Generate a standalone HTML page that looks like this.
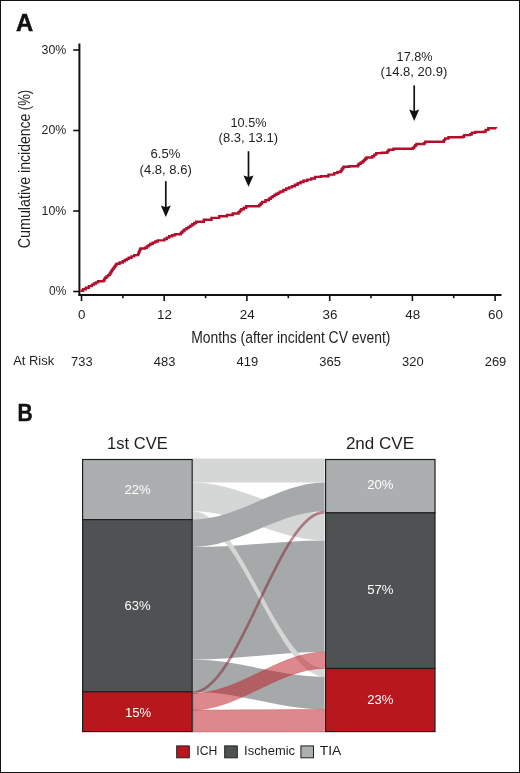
<!DOCTYPE html><html><head><meta charset="utf-8"><style>html,body{margin:0;padding:0;background:#fff;}svg{display:block;will-change:transform;}text{font-family:"Liberation Sans", sans-serif;}</style></head><body>
<svg width="520" height="773" viewBox="0 0 520 773">
<rect x="0" y="0" width="520" height="773" fill="#fff"/>
<rect x="0.5" y="0.5" width="519" height="772" fill="none" stroke="#111" stroke-width="1"/>
<text x="16.1" y="30.7" font-size="23.6" text-anchor="start" fill="#111" font-weight="bold" textLength="17.2" lengthAdjust="spacingAndGlyphs" stroke="#111" stroke-width="0.5">A</text>
<line x1="79.4" y1="43.5" x2="79.4" y2="295.5" stroke="#111" stroke-width="2"/>
<line x1="78.4" y1="294.9" x2="501.5" y2="294.9" stroke="#111" stroke-width="2"/>
<line x1="73.2" y1="291.5" x2="79.4" y2="291.5" stroke="#111" stroke-width="1.6"/>
<text x="66.3" y="295.4" font-size="13.4" text-anchor="end" fill="#1e1e1e" font-weight="normal" textLength="17.3" lengthAdjust="spacingAndGlyphs">0%</text>
<line x1="73.2" y1="211.0" x2="79.4" y2="211.0" stroke="#111" stroke-width="1.6"/>
<text x="66.3" y="214.9" font-size="13.4" text-anchor="end" fill="#1e1e1e" font-weight="normal" textLength="24.8" lengthAdjust="spacingAndGlyphs">10%</text>
<line x1="73.2" y1="130.5" x2="79.4" y2="130.5" stroke="#111" stroke-width="1.6"/>
<text x="66.3" y="134.4" font-size="13.4" text-anchor="end" fill="#1e1e1e" font-weight="normal" textLength="24.8" lengthAdjust="spacingAndGlyphs">20%</text>
<line x1="73.2" y1="50.0" x2="79.4" y2="50.0" stroke="#111" stroke-width="1.6"/>
<text x="66.3" y="53.9" font-size="13.4" text-anchor="end" fill="#1e1e1e" font-weight="normal" textLength="24.8" lengthAdjust="spacingAndGlyphs">30%</text>
<line x1="81.5" y1="294" x2="81.5" y2="301" stroke="#111" stroke-width="1.6"/>
<text x="81.8" y="318.6" font-size="13.4" text-anchor="middle" fill="#1e1e1e" font-weight="normal">0</text>
<line x1="122.9" y1="294" x2="122.9" y2="298.2" stroke="#111" stroke-width="1.6"/>
<line x1="164.2" y1="294" x2="164.2" y2="301" stroke="#111" stroke-width="1.6"/>
<text x="164.5" y="318.6" font-size="13.4" text-anchor="middle" fill="#1e1e1e" font-weight="normal">12</text>
<line x1="205.6" y1="294" x2="205.6" y2="298.2" stroke="#111" stroke-width="1.6"/>
<line x1="246.9" y1="294" x2="246.9" y2="301" stroke="#111" stroke-width="1.6"/>
<text x="247.2" y="318.6" font-size="13.4" text-anchor="middle" fill="#1e1e1e" font-weight="normal">24</text>
<line x1="288.3" y1="294" x2="288.3" y2="298.2" stroke="#111" stroke-width="1.6"/>
<line x1="329.7" y1="294" x2="329.7" y2="301" stroke="#111" stroke-width="1.6"/>
<text x="330.0" y="318.6" font-size="13.4" text-anchor="middle" fill="#1e1e1e" font-weight="normal">36</text>
<line x1="371.0" y1="294" x2="371.0" y2="298.2" stroke="#111" stroke-width="1.6"/>
<line x1="412.4" y1="294" x2="412.4" y2="301" stroke="#111" stroke-width="1.6"/>
<text x="412.7" y="318.6" font-size="13.4" text-anchor="middle" fill="#1e1e1e" font-weight="normal">48</text>
<line x1="453.7" y1="294" x2="453.7" y2="298.2" stroke="#111" stroke-width="1.6"/>
<line x1="495.1" y1="294" x2="495.1" y2="301" stroke="#111" stroke-width="1.6"/>
<text x="495.4" y="318.6" font-size="13.4" text-anchor="middle" fill="#1e1e1e" font-weight="normal">60</text>
<text x="191.2" y="343.1" font-size="16.8" text-anchor="start" fill="#1e1e1e" font-weight="normal" textLength="199.2" lengthAdjust="spacingAndGlyphs">Months (after incident CV event)</text>
<text transform="translate(30.0,248.2) rotate(-90)" x="0" y="0" font-size="17.4" fill="#1e1e1e" textLength="71.4" lengthAdjust="spacingAndGlyphs">Cumulative</text>
<text transform="translate(30.0,172.9) rotate(-90)" x="0" y="0" font-size="16.8" fill="#1e1e1e" textLength="59.3" lengthAdjust="spacingAndGlyphs">incidence</text>
<text transform="translate(30.0,110.19999999999999) rotate(-90)" x="0" y="0" font-size="16.8" fill="#1e1e1e" textLength="20.3" lengthAdjust="spacingAndGlyphs">(%)</text>
<text x="13.2" y="365.2" font-size="13" text-anchor="start" fill="#1e1e1e" font-weight="normal" textLength="41" lengthAdjust="spacingAndGlyphs">At Risk</text>
<text x="81.9" y="365.7" font-size="13" text-anchor="middle" fill="#1e1e1e" font-weight="normal" textLength="21.6" lengthAdjust="spacingAndGlyphs">733</text>
<text x="164.6" y="365.7" font-size="13" text-anchor="middle" fill="#1e1e1e" font-weight="normal" textLength="21.6" lengthAdjust="spacingAndGlyphs">483</text>
<text x="247.3" y="365.7" font-size="13" text-anchor="middle" fill="#1e1e1e" font-weight="normal" textLength="21.6" lengthAdjust="spacingAndGlyphs">419</text>
<text x="330.1" y="365.7" font-size="13" text-anchor="middle" fill="#1e1e1e" font-weight="normal" textLength="21.6" lengthAdjust="spacingAndGlyphs">365</text>
<text x="412.8" y="365.7" font-size="13" text-anchor="middle" fill="#1e1e1e" font-weight="normal" textLength="21.6" lengthAdjust="spacingAndGlyphs">320</text>
<text x="495.5" y="365.7" font-size="13" text-anchor="middle" fill="#1e1e1e" font-weight="normal" textLength="21.6" lengthAdjust="spacingAndGlyphs">269</text>
<path d="M80.4,290.8 L83.1,290.8 L83.1,289.25 L85.8,289.25 L85.8,287.7 L88.85,287.7 L88.85,286.15 L91.9,286.15 L91.9,284.6 L93.97,284.6 L93.97,283.47 L96.03,283.47 L96.03,282.33 L98.1,282.33 L98.1,281.2 L103.5,281.2 L103.5,280.8 L104.25,280.8 L104.25,279.25 L105.0,279.25 L105.0,277.7 L106.53,277.7 L106.53,276.4 L108.07,276.4 L108.07,275.1 L109.6,275.1 L109.6,273.8 L110.38,273.8 L110.38,272.57 L111.15,272.57 L111.15,271.35 L111.92,271.35 L111.92,270.12 L112.7,270.12 L112.7,268.9 L113.65,268.9 L113.65,267.62 L114.6,267.62 L114.6,266.35 L115.55,266.35 L115.55,265.07 L116.5,265.07 L116.5,263.8 L119.6,263.8 L119.6,262.5 L122.7,262.5 L122.7,261.2 L124.73,261.2 L124.73,260.03 L126.77,260.03 L126.77,258.87 L128.8,258.87 L128.8,257.7 L131.5,257.7 L131.5,256.4 L134.2,256.4 L134.2,255.1 L138.1,255.1 L138.1,253.8 L138.68,253.8 L138.68,252.48 L139.25,252.48 L139.25,251.15 L139.82,251.15 L139.82,249.82 L140.4,249.82 L140.4,248.5 L145.0,248.5 L145.0,247.7 L146.8,247.7 L146.8,246.4 L148.6,246.4 L148.6,245.1 L150.4,245.1 L150.4,243.8 L152.83,243.8 L152.83,242.67 L155.27,242.67 L155.27,241.53 L157.7,241.53 L157.7,240.4 L164.4,240.4 L164.4,239.0 L166.8,239.0 L166.8,237.6 L169.2,237.6 L169.2,236.2 L172.1,236.2 L172.1,235.2 L175.0,235.2 L175.0,234.2 L180.8,234.2 L180.8,232.7 L182.07,232.7 L182.07,231.6 L183.33,231.6 L183.33,230.5 L184.6,230.5 L184.6,229.4 L186.53,229.4 L186.53,228.13 L188.47,228.13 L188.47,226.87 L190.4,226.87 L190.4,225.6 L192.33,225.6 L192.33,224.3 L194.27,224.3 L194.27,223.0 L196.2,223.0 L196.2,221.7 L203.8,221.7 L203.8,219.8 L211.5,219.8 L211.5,217.9 L219.2,217.9 L219.2,216.3 L226.9,216.3 L226.9,215.0 L232.7,215.0 L232.7,213.5 L238.5,213.5 L238.5,212.1 L239.9,212.1 L239.9,210.65 L241.3,210.65 L241.3,209.2 L243.75,209.2 L243.75,207.75 L246.2,207.75 L246.2,206.3 L251.5,206.3 L251.5,206.3 L259.2,206.3 L259.2,205.0 L260.65,205.0 L260.65,203.45 L262.1,203.45 L262.1,201.9 L265.45,201.9 L265.45,200.3 L268.8,200.3 L268.8,198.7 L270.73,198.7 L270.73,197.4 L272.67,197.4 L272.67,196.1 L274.6,196.1 L274.6,194.8 L276.53,194.8 L276.53,193.7 L278.47,193.7 L278.47,192.6 L280.4,192.6 L280.4,191.5 L283.3,191.5 L283.3,190.0 L286.2,190.0 L286.2,188.5 L289.05,188.5 L289.05,187.35 L291.9,187.35 L291.9,186.2 L294.8,186.2 L294.8,184.75 L297.7,184.75 L297.7,183.3 L300.6,183.3 L300.6,182.05 L303.5,182.05 L303.5,180.8 L307.35,180.8 L307.35,179.65 L311.2,179.65 L311.2,178.5 L315.0,178.5 L315.0,176.9 L320.8,176.9 L320.8,176.2 L328.5,176.2 L328.5,174.6 L334.2,174.6 L334.2,173.1 L337.4,173.1 L337.4,172.05 L340.6,172.05 L340.6,171.0 L341.57,171.0 L341.57,169.57 L342.53,169.57 L342.53,168.13 L343.5,168.13 L343.5,166.7 L349.2,166.7 L349.2,166.2 L356.9,166.2 L356.9,166.2 L357.85,166.2 L357.85,165.0 L358.8,165.0 L358.8,163.8 L360.75,163.8 L360.75,162.55 L362.7,162.55 L362.7,161.3 L363.97,161.3 L363.97,160.03 L365.23,160.03 L365.23,158.77 L366.5,158.77 L366.5,157.5 L372.3,157.5 L372.3,156.2 L374.25,156.2 L374.25,154.65 L376.2,154.65 L376.2,153.1 L381.9,153.1 L381.9,152.7 L386.7,152.7 L386.7,152.3 L387.7,152.3 L387.7,151.05 L388.7,151.05 L388.7,149.8 L393.5,149.8 L393.5,148.8 L412.7,148.8 L412.7,147.9 L413.97,147.9 L413.97,146.6 L415.23,146.6 L415.23,145.3 L416.5,145.3 L416.5,144.0 L424.2,144.0 L424.2,143.1 L425.2,143.1 L425.2,141.7 L442.5,141.7 L442.5,141.7 L443.8,141.7 L443.8,140.1 L445.1,140.1 L445.1,138.5 L448.5,138.5 L448.5,137.3 L462.4,137.3 L462.4,136.8 L464.1,136.8 L464.1,135.1 L470.2,135.1 L470.2,134.2 L471.9,134.2 L471.9,132.8 L475.4,132.8 L475.4,132.0 L484.0,132.0 L484.0,131.6 L485.7,131.6 L485.7,129.9 L488.3,129.9 L488.3,128.2 L496.1,128.2 L496.1,128.5" fill="none" stroke="#b10f2c" stroke-width="2.4" stroke-linejoin="miter"/>
<text x="165.4" y="158.2" font-size="13" text-anchor="middle" fill="#1e1e1e" font-weight="normal" textLength="29.8" lengthAdjust="spacingAndGlyphs">6.5%</text>
<text x="165.7" y="173.7" font-size="13" text-anchor="middle" fill="#1e1e1e" font-weight="normal" textLength="52.2" lengthAdjust="spacingAndGlyphs">(4.8, 8.6)</text>
<line x1="165.8" y1="181.2" x2="165.8" y2="209" stroke="#111" stroke-width="1.7"/><path d="M165.8,217 L160.8,205.6 L165.8,207.3 L170.8,205.6 Z" fill="#111"/>
<text x="248.5" y="127" font-size="13" text-anchor="middle" fill="#1e1e1e" font-weight="normal" textLength="36" lengthAdjust="spacingAndGlyphs">10.5%</text>
<text x="248.3" y="142.4" font-size="13" text-anchor="middle" fill="#1e1e1e" font-weight="normal" textLength="59.4" lengthAdjust="spacingAndGlyphs">(8.3, 13.1)</text>
<line x1="248.5" y1="151.2" x2="248.5" y2="178.8" stroke="#111" stroke-width="1.7"/><path d="M248.5,186.8 L243.5,175.4 L248.5,177.10000000000002 L253.5,175.4 Z" fill="#111"/>
<text x="414.6" y="60.8" font-size="13" text-anchor="middle" fill="#1e1e1e" font-weight="normal" textLength="36" lengthAdjust="spacingAndGlyphs">17.8%</text>
<text x="413.9" y="76.1" font-size="13" text-anchor="middle" fill="#1e1e1e" font-weight="normal" textLength="66.7" lengthAdjust="spacingAndGlyphs">(14.8, 20.9)</text>
<line x1="414.2" y1="85.4" x2="414.2" y2="113" stroke="#111" stroke-width="1.7"/><path d="M414.2,121 L409.2,109.6 L414.2,111.3 L419.2,109.6 Z" fill="#111"/>
<text x="17.6" y="420.5" font-size="23.2" text-anchor="start" fill="#111" font-weight="bold" textLength="15.2" lengthAdjust="spacingAndGlyphs" stroke="#111" stroke-width="0.4">B</text>
<text x="137.4" y="448.8" font-size="17.4" text-anchor="middle" fill="#1e1e1e" font-weight="normal" textLength="60.6" lengthAdjust="spacingAndGlyphs">1st CVE</text>
<text x="380" y="448.8" font-size="17.4" text-anchor="middle" fill="#1e1e1e" font-weight="normal" textLength="68.2" lengthAdjust="spacingAndGlyphs">2nd CVE</text>
<path d="M193.0,458.6 C239.06,458.6 278.54,458.6 324.6,458.6 L324.6,482.6 C278.54,482.6 239.06,482.6 193.0,482.6 Z" fill="#d5d7d6"/>
<path d="M193.0,482.6 C239.06,482.6 278.54,513.0 324.6,513.0 L324.6,540.4 C278.54,540.4 239.06,511.3 193.0,511.3 Z" fill="#d5d7d6"/>
<path d="M193.0,547.1 C239.06,547.1 278.54,540.4 324.6,540.4 L324.6,652.0 C278.54,652.0 239.06,659.5 193.0,659.5 Z" fill="#a6a9aa"/>
<path d="M193.0,511.3 C239.06,511.3 278.54,668.5 324.6,668.5 L324.6,676.7 C278.54,676.7 239.06,519.5 193.0,519.5 Z" fill="#d5d7d6"/>
<path d="M193.0,519.5 C239.06,519.5 278.54,482.6 324.6,482.6 L324.6,511.3 C278.54,511.3 239.06,547.1 193.0,547.1 Z" fill="#a6a9aa"/>
<path d="M193.0,659.5 C239.06,659.5 278.54,676.7 324.6,676.7 L324.6,709.5 C278.54,709.5 239.06,691.7 193.0,691.7 Z" fill="#a6a9aa"/>
<path d="M193.0,710.0 C239.06,710.0 278.54,709.5 324.6,709.5 L324.6,732.0 C278.54,732.0 239.06,732.0 193.0,732.0 Z" fill="rgba(190,26,36,0.52)" stroke="rgba(196,28,36,0.35)" stroke-width="0.8"/>
<path d="M193.0,693.3 C239.06,693.3 278.54,652.0 324.6,652.0 L324.6,668.5 C278.54,668.5 239.06,710.0 193.0,710.0 Z" fill="rgba(190,26,36,0.52)" stroke="rgba(196,28,36,0.35)" stroke-width="0.8"/>
<path d="M193.0,692.5 C239.06,692.5 278.54,512.1 324.6,512.1" fill="none" stroke="rgba(125,30,42,0.5)" stroke-width="2.6"/>
<rect x="82.6" y="459.5" width="109.6" height="60.10000000000002" fill="#abafaf" stroke="#1e1e1e" stroke-width="1.2"/><rect x="82.6" y="519.6" width="109.6" height="172.19999999999993" fill="#4e5253" stroke="#1e1e1e" stroke-width="1.2"/><rect x="82.6" y="691.8" width="109.6" height="39.80000000000007" fill="#b8171d" stroke="#1e1e1e" stroke-width="1.2"/>
<rect x="325.6" y="459.5" width="109.4" height="53.39999999999998" fill="#abafaf" stroke="#1e1e1e" stroke-width="1.2"/><rect x="325.6" y="512.9" width="109.4" height="155.60000000000002" fill="#4e5253" stroke="#1e1e1e" stroke-width="1.2"/><rect x="325.6" y="668.5" width="109.4" height="63.10000000000002" fill="#b8171d" stroke="#1e1e1e" stroke-width="1.2"/>
<text x="137.6" y="494.4" font-size="13.6" text-anchor="middle" fill="#ffffff" font-weight="normal" textLength="26.2" lengthAdjust="spacingAndGlyphs">22%</text>
<text x="137.6" y="610.0" font-size="13.6" text-anchor="middle" fill="#ffffff" font-weight="normal" textLength="26.2" lengthAdjust="spacingAndGlyphs">63%</text>
<text x="138" y="716.5" font-size="13.6" text-anchor="middle" fill="#ffffff" font-weight="normal" textLength="26.2" lengthAdjust="spacingAndGlyphs">15%</text>
<text x="380.3" y="489.2" font-size="13.6" text-anchor="middle" fill="#ffffff" font-weight="normal" textLength="26.2" lengthAdjust="spacingAndGlyphs">20%</text>
<text x="380.3" y="594.2" font-size="13.6" text-anchor="middle" fill="#ffffff" font-weight="normal" textLength="26.2" lengthAdjust="spacingAndGlyphs">57%</text>
<text x="380.3" y="703.6" font-size="13.6" text-anchor="middle" fill="#ffffff" font-weight="normal" textLength="26.2" lengthAdjust="spacingAndGlyphs">23%</text>
<rect x="176.7" y="745.9" width="12.6" height="11.9" fill="#b8171d" stroke="#222" stroke-width="1"/>
<rect x="224.7" y="745.9" width="12.6" height="11.9" fill="#4e5253" stroke="#222" stroke-width="1"/>
<rect x="300.9" y="745.9" width="12.6" height="11.9" fill="#abafaf" stroke="#222" stroke-width="1"/>
<text x="196.3" y="755.2" font-size="12.2" text-anchor="start" fill="#1e1e1e" font-weight="normal" textLength="21" lengthAdjust="spacingAndGlyphs">ICH</text>
<text x="244.1" y="755.2" font-size="12.2" text-anchor="start" fill="#1e1e1e" font-weight="normal" textLength="51" lengthAdjust="spacingAndGlyphs">Ischemic</text>
<text x="319.8" y="755.2" font-size="12.2" text-anchor="start" fill="#1e1e1e" font-weight="normal" textLength="21.5" lengthAdjust="spacingAndGlyphs">TIA</text>
</svg></body></html>
